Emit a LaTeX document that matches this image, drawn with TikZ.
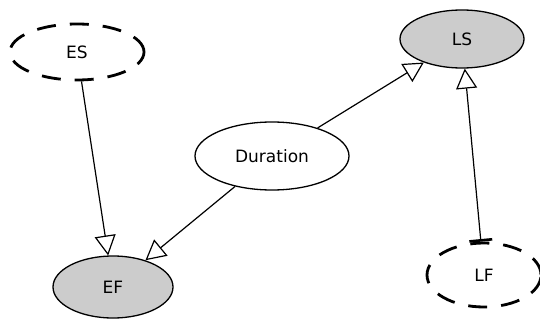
\documentclass[tikz,border=0pt]{standalone}
\usepackage{fontspec}
\setmainfont{DejaVu Sans}
\usetikzlibrary{arrows.meta, shapes.geometric}
\definecolor{nodegray}{HTML}{CCCCCC}
\tikzset{
  every node/.style={font=\fontsize{17}{20}\selectfont},
  solidnode/.style={ellipse, draw, line width=1.3pt, inner sep=0pt},
  dashnode/.style={ellipse, draw, line width=2.8pt, dash pattern=on 19pt off 14pt, inner sep=0pt},
  link/.style={line width=1.2pt, -{Triangle[open, length=20pt, width=21pt, line width=1.2pt]}},
  blocklink/.style={line width=1.2pt, {Bar[width=23pt, line width=2.6pt]}-{Triangle[open, length=20pt, width=21pt, line width=1.2pt]}}
}
\begin{document}
\begin{tikzpicture}[x=1pt, y=-1pt]
  \path[use as bounding box] (0,0) rectangle (540,321);
  \fill[white] (0,0) rectangle (540,321);

  % nodes
  \node[dashnode, minimum width=134pt, minimum height=56pt] (ES) at (77,52) {ES};
  \node[solidnode, fill=nodegray, minimum width=124pt, minimum height=58pt] (LS) at (462,39) {LS};
  \node[solidnode, fill=white, minimum width=154pt, minimum height=68pt] (Dur) at (272,156) {Duration};
  \node[solidnode, fill=nodegray, minimum width=120pt, minimum height=62pt] (EF) at (113,287) {EF};
  \node[dashnode, minimum width=114pt, minimum height=64pt] (LF) at (484,275) {LF};

  % connectors
  \draw[link] (ES) -- (EF);
  \draw[link] (Dur) -- (EF);
  \draw[link] (Dur) -- (LS);
  \draw[blocklink] (LF) -- (LS);
\end{tikzpicture}
\end{document}
